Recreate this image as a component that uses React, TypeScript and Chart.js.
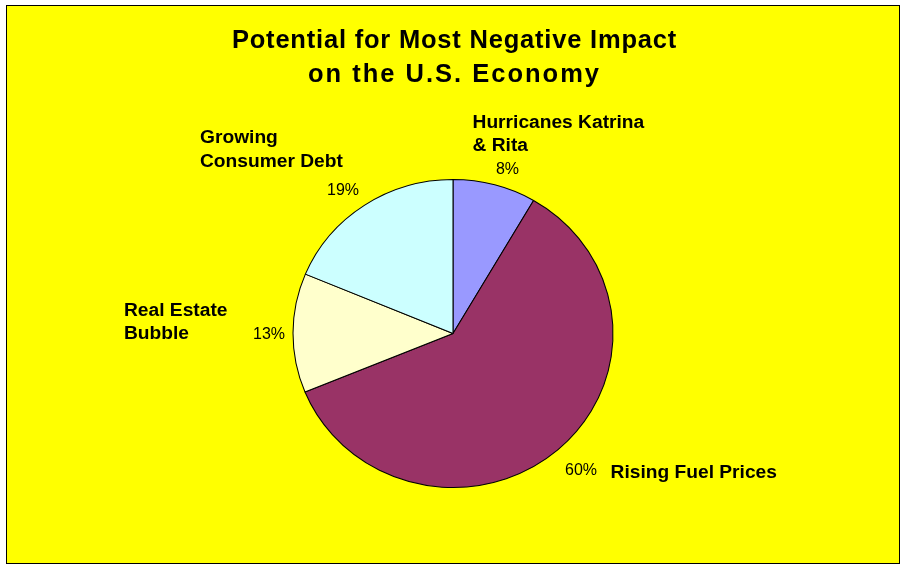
import React, { useEffect, useRef } from "react";
import { Chart, registerables } from "chart.js";

Chart.register(...registerables);

const titleLines = ["Potential for Most Negative Impact", "on the U.S. Economy"];
const categories = [
  ["Hurricanes Katrina", "& Rita"],
  ["Rising Fuel Prices"],
  ["Real Estate", "Bubble"],
  ["Growing", "Consumer Debt"],
];
// slice shares (percent); labels round them
const shares = [8.4, 60.4, 12.5, 18.7];
const sliceColors = ["#9999FF", "#993366", "#FFFFCC", "#CCFFFF"];

const FONT = '"Liberation Sans", Arial, sans-serif';
const STRETCH_X = 160 / 154;

// percentage label (centre x, baseline) relative to the rim point at each slice's mid angle
const pctOffsets = [
  [12.8, -10.7],
  [23, 25.7],
  [-24, 6.3],
  [-21.3, -10.3],
];
// category label (left x, first baseline) relative to percentage anchor
const catOffsets = [
  [-35, -46],
  [29.5, 3],
  [-145, -23.6],
  [-143, -51.7],
];

const framePlugin = {
  id: "frame",
  beforeDraw(chart: any) {
    const ctx = chart.ctx;
    ctx.save();
    ctx.fillStyle = "#FFFFFF";
    ctx.fillRect(0, 0, chart.width, chart.height);
    ctx.fillStyle = "#FFFF00";
    ctx.fillRect(6.5, 5.5, 893, 558);
    ctx.strokeStyle = "#000000";
    ctx.lineWidth = 1;
    ctx.strokeRect(6.5, 5.5, 893, 558);
    ctx.restore();
  },
  beforeDatasetsDraw(chart: any) {
    const arc = chart.getDatasetMeta(0).data[0];
    if (!arc) return;
    const ctx = chart.ctx;
    ctx.save();
    ctx.translate(arc.x, arc.y);
    ctx.scale(STRETCH_X, 1);
    ctx.translate(-arc.x, -arc.y);
  },
  afterDatasetsDraw(chart: any) {
    chart.ctx.restore();
  },
  afterDraw(chart: any) {
    const ctx = chart.ctx;
    ctx.save();
    ctx.fillStyle = "#000000";
    ctx.textAlign = "center";
    ctx.textBaseline = "alphabetic";
    ctx.font = `bold 25.5px ${FONT}`;
    const titleSpacing = ["0.8px", "2px"];
    const titleBase = [48, 82];
    titleLines.forEach((line, i) => {
      (ctx as any).letterSpacing = titleSpacing[i];
      ctx.fillText(line, 454.5, titleBase[i]);
    });

    const meta = chart.getDatasetMeta(0);
    const total = shares.reduce((a, b) => a + b, 0);
    meta.data.forEach((el: any, i: number) => {
      const p = el.getProps(["x", "y", "startAngle", "endAngle", "outerRadius"], true);
      const mid = (p.startAngle + p.endAngle) / 2;
      const rx = p.x + Math.cos(mid) * p.outerRadius * STRETCH_X;
      const ry = p.y + Math.sin(mid) * p.outerRadius;
      const px = rx + pctOffsets[i][0];
      const py = ry + pctOffsets[i][1];
      const pct = Math.round(Number(((shares[i] / total) * 100).toFixed(6)));
      ctx.font = `16px ${FONT}`;
      (ctx as any).letterSpacing = "0px";
      ctx.textAlign = "center";
      ctx.fillText(pct + "%", px, py);

      ctx.font = `bold 19.2px ${FONT}`;
      (ctx as any).letterSpacing = "0px";
      ctx.textAlign = "left";
      const lx = px + catOffsets[i][0];
      const ly = py + catOffsets[i][1];
      categories[i].forEach((line, j) => {
        ctx.fillText(line, lx, ly + j * 23.3);
      });
    });
    ctx.restore();
  },
};

export default function App() {
  const ref = useRef<HTMLCanvasElement>(null);
  useEffect(() => {
    if (!ref.current) return;
    const chart = new Chart(ref.current, {
      type: "pie",
      data: {
        labels: categories,
        datasets: [
          {
            data: shares,
            backgroundColor: sliceColors,
            borderColor: "#000000",
            borderWidth: 1,
            hoverBorderWidth: 1,
            hoverOffset: 0,
            offset: 0,
            clip: false,
          } as any,
        ],
      },
      options: {
        animation: false,
        responsive: false,
        devicePixelRatio: 1,
        events: [],
        rotation: 0,
        layout: { padding: { left: 298.5, right: 294.5, top: 179, bottom: 81 } },
        plugins: {
          legend: { display: false },
          title: { display: false },
          tooltip: { enabled: false },
        },
      },
      plugins: [framePlugin],
    });
    return () => chart.destroy();
  }, []);
  return (
    <div style={{ position: "fixed", left: 0, top: 0, width: 902, height: 569 }}>
      <canvas ref={ref} width={902} height={569} style={{ display: "block" }} />
    </div>
  );
}
